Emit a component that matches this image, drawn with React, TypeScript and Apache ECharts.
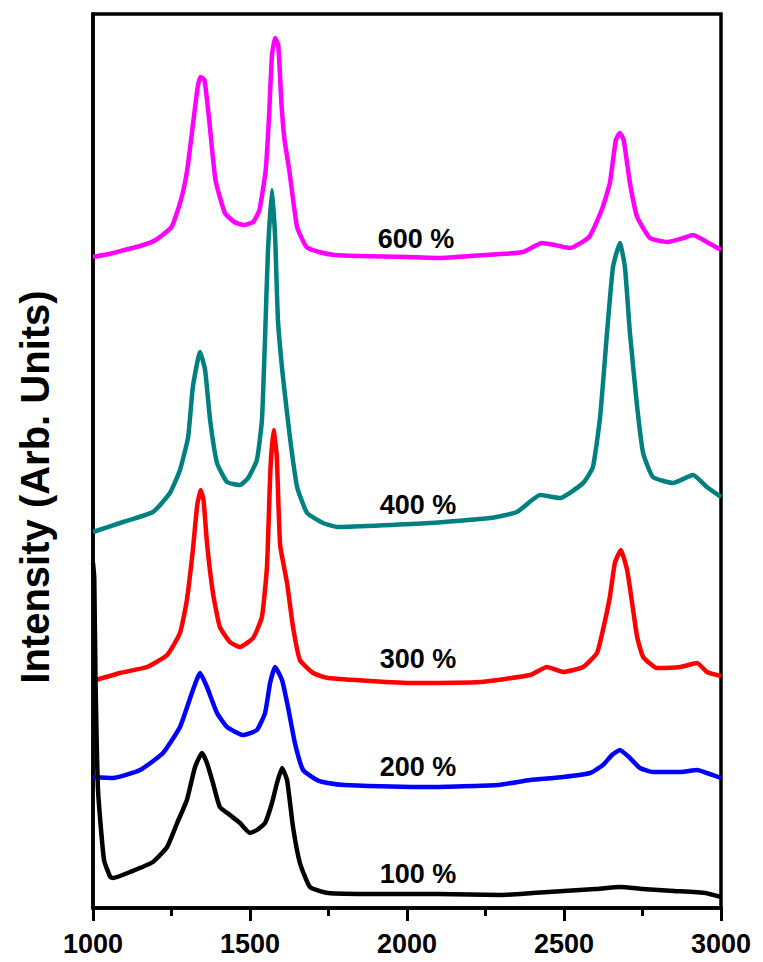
import React, { useEffect, useRef } from "react";
import * as echarts from "echarts";

// Raman shift (cm^-1), intensity (arb. units)
const s600: [number, number][] = [
  [1000, 651], [1050, 654], [1100, 658], [1150, 662], [1200, 668], [1250, 681], [1280, 708],
  [1300, 738], [1320, 788], [1333, 820], [1342, 831], [1355, 828], [1370, 788], [1390, 728],
  [1420, 695], [1450, 686], [1480, 683], [1510, 686], [1530, 698], [1550, 738], [1560, 788],
  [1570, 853], [1580, 870], [1590, 863], [1600, 805], [1610, 768], [1625, 738], [1650, 681],
  [1680, 661], [1720, 656], [1770, 653], [1850, 652], [2000, 651], [2100, 650], [2200, 652],
  [2300, 654], [2370, 656], [2430, 665], [2470, 663], [2520, 660], [2580, 671], [2620, 698],
  [2646, 725], [2665, 768], [2678, 775], [2690, 768], [2710, 725], [2733, 691], [2774, 670],
  [2830, 666], [2880, 670], [2911, 673], [2955, 666], [3000, 658],
];
const s400: [number, number][] = [
  [1000, 376], [1096, 386], [1191, 396], [1245, 415], [1277, 438], [1303, 471], [1318, 521],
  [1341, 556], [1357, 538], [1373, 488], [1395, 445], [1427, 426], [1468, 423], [1494, 430],
  [1522, 448], [1538, 488], [1548, 571], [1557, 655], [1570, 718], [1580, 671], [1589, 588],
  [1605, 531], [1627, 471], [1650, 421], [1682, 395], [1733, 385], [1780, 381], [2073, 385],
  [2264, 390], [2350, 396], [2424, 413], [2487, 410], [2561, 425], [2592, 441], [2615, 491],
  [2637, 575], [2656, 641], [2678, 665], [2694, 641], [2710, 575], [2733, 501], [2752, 455],
  [2783, 431], [2847, 425], [2911, 433], [2955, 421], [3000, 411],
];
const s300: [number, number][] = [
  [1010, 228], [1086, 235], [1172, 241], [1236, 253], [1277, 275], [1299, 308], [1318, 358],
  [1332, 403], [1343, 418], [1352, 408], [1363, 365], [1382, 315], [1404, 281], [1436, 266],
  [1468, 261], [1510, 270], [1538, 291], [1554, 341], [1565, 438], [1575, 478], [1585, 453],
  [1596, 363], [1618, 325], [1637, 281], [1659, 248], [1701, 235], [1748, 230], [2019, 225],
  [2233, 226], [2392, 233], [2446, 241], [2497, 236], [2561, 241], [2605, 255], [2624, 278],
  [2646, 311], [2662, 345], [2681, 358], [2701, 338], [2717, 305], [2733, 271], [2752, 251],
  [2796, 240], [2870, 241], [2924, 245], [2955, 236], [3000, 232],
];
const s200: [number, number][] = [
  [1000, 131], [1064, 130], [1150, 138], [1223, 155], [1277, 181], [1315, 215], [1341, 235],
  [1363, 221], [1395, 195], [1427, 181], [1478, 173], [1522, 178], [1548, 195], [1564, 225],
  [1580, 241], [1602, 228], [1621, 201], [1643, 165], [1669, 138], [1713, 128], [1748, 125],
  [1800, 123], [2073, 121], [2287, 123], [2392, 128], [2497, 131], [2583, 135], [2624, 143],
  [2653, 153], [2678, 158], [2710, 150], [2742, 140], [2783, 136], [2870, 136], [2924, 138],
  [2955, 135], [3000, 130],
];
const s100: [number, number][] = [
  [1000, 345], [1004, 330], [1008, 228], [1016, 118], [1035, 48], [1055, 31], [1064, 30],
  [1118, 36], [1191, 46], [1236, 61], [1268, 85], [1299, 108], [1325, 141], [1347, 155],
  [1363, 145], [1382, 125], [1404, 101], [1436, 93], [1468, 85], [1500, 75], [1522, 78],
  [1548, 85], [1570, 105], [1586, 125], [1602, 140], [1618, 128], [1637, 81], [1659, 45],
  [1691, 21], [1748, 15], [1900, 14], [2100, 14], [2300, 13], [2400, 15], [2500, 17],
  [2600, 19], [2680, 21], [2750, 19], [2850, 17], [2950, 15], [3000, 11],
];

const seriesNames = ["600 %", "400 %", "300 %", "200 %", "100 %"];
const seriesColors = ["#FF00FF", "#008080", "#FF0000", "#0000FF", "#000000"];
const seriesData = [s600, s400, s300, s200, s100];
const labelPos: [number, number][] = [
  [416, 239], [418, 505], [418, 659], [418, 767], [418, 874],
];
const xTicks = [1000, 1500, 2000, 2500, 3000];

const FONT = "'Liberation Sans', Arial, sans-serif";

export default function App() {
  const ref = useRef<HTMLDivElement>(null);
  useEffect(() => {
    if (!ref.current) return;
    const chart = echarts.init(ref.current, undefined, { renderer: "svg" });
    chart.setOption({
      animation: false,
      backgroundColor: "#fff",
      grid: {
        left: 93, right: 42, top: 14, bottom: 54,
        show: true, borderColor: "#000", borderWidth: 3.5, backgroundColor: "transparent",
      },
      xAxis: [
        {
          type: "value",
          position: "bottom",
          min: xTicks[0],
          max: xTicks[xTicks.length - 1],
          interval: 500,
          axisLine: { show: true, lineStyle: { color: "#000", width: 3.5 } },
          axisTick: { show: true, inside: false, length: 13, lineStyle: { color: "#000", width: 3 } },
          splitLine: { show: false },
          axisLabel: {
            color: "#000", fontSize: 27, fontWeight: "bold", fontFamily: FONT, margin: 22,
            showMinLabel: true, showMaxLabel: true,
            formatter: (v: number) => String(v),
          },
        },
        {
          type: "value",
          position: "bottom",
          offset: 0,
          min: xTicks[0],
          max: xTicks[xTicks.length - 1],
          interval: 250,
          axisLine: { show: false },
          axisTick: { show: true, inside: false, length: 8, lineStyle: { color: "#000", width: 3 } },
          splitLine: { show: false },
          axisLabel: { show: false },
        },
      ],
      yAxis: {
        type: "value",
        min: 0,
        max: 894,
        axisLine: { show: true, lineStyle: { color: "#000", width: 3.5 } },
        axisTick: { show: false },
        axisLabel: { show: false },
        splitLine: { show: false },
      },
      graphic: [
        {
          type: "text",
          x: 35, y: 487, rotation: Math.PI / 2,
          style: {
            text: "Intensity (Arb. Units)",
            fontSize: 40, fontWeight: "bold", fontFamily: FONT, fill: "#000",
            textAlign: "center", textVerticalAlign: "middle",
          },
        },
        ...seriesNames.map((n, i) => ({
          type: "text",
          x: labelPos[i][0], y: labelPos[i][1], z: 100,
          style: {
            text: n, fontSize: 27, fontWeight: "bold", fontFamily: FONT, fill: "#000",
            textAlign: "center", textVerticalAlign: "middle",
          },
        })),
      ],
      series: seriesData.map((d, i) => ({
        type: "line",
        name: seriesNames[i],
        xAxisIndex: 0,
        data: d,
        showSymbol: false,
        symbol: "none",
        clip: true,
        smooth: 0.15,
        lineStyle: { color: seriesColors[i], width: 4.5, join: "round" },
        z: 2 + i,
      })),
    });
    return () => chart.dispose();
  }, []);
  return (
    <div
      ref={ref}
      style={{ position: "fixed", left: 0, top: 0, width: 763, height: 962, background: "#fff" }}
    />
  );
}
